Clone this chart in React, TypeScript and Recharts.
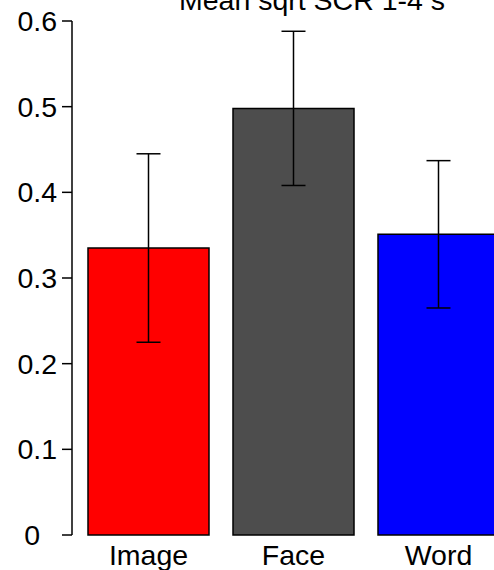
import React from 'react';
import { BarChart, Bar, XAxis, YAxis, ErrorBar, Cell } from 'recharts';

const conditions = ['Image', 'Face', 'Word'];
const meanSqrtScr = [0.335, 0.498, 0.351];
const stdErr = [0.11, 0.09, 0.086];
const barColors = ['#ff0000', '#4d4d4d', '#0000ff'];
const yTicks = [0, 0.1, 0.2, 0.3, 0.4, 0.5, 0.6];

const FONT = '"Liberation Sans", Arial, Helvetica, sans-serif';
const FS = 28.5;

function YTick(props: any) {
  const { x, y, payload } = props;
  // R puts the lone "0" a little further left than the others
  const shift = payload.value === 0 ? -17 : 0;
  return (
    <text x={x + shift} y={y + 10} textAnchor="end" fontSize={FS} fontFamily={FONT} fill="#000">
      {payload.value}
    </text>
  );
}

function XTick(props: any) {
  const { x, y, payload } = props;
  return (
    <text x={x} y={y + 30} textAnchor="middle" fontSize={FS} fontFamily={FONT} fill="#000">
      {payload.value}
    </text>
  );
}

export default function App() {
  const data = conditions.map((name, i) => ({
    name,
    mean: meanSqrtScr[i],
    err: stdErr[i],
  }));

  return (
    <div
      style={{
        position: 'absolute',
        left: 0,
        top: 0,
        width: 494,
        height: 570,
        overflow: 'hidden',
        background: '#fff',
      }}
    >
      <BarChart
        width={511}
        height={570}
        data={data}
        margin={{ top: 21, right: 0, bottom: 0, left: 0 }}
      >
        <XAxis
          dataKey="name"
          axisLine={false}
          tickLine={false}
          tickSize={0}
          tickMargin={0}
          height={35}
          padding={{ left: 4, right: 0 }}
          tick={<XTick />}
          interval={0}
        />
        <YAxis
          domain={[0, 0.6]}
          ticks={yTicks}
          width={72}
          tickSize={10}
          tickMargin={5}
          axisLine={{ stroke: '#000', strokeWidth: 1.5 }}
          tickLine={{ stroke: '#000', strokeWidth: 1.5 }}
          tick={<YTick />}
          interval={0}
        />
        <Bar dataKey="mean" barSize={121} stroke="#000" strokeWidth={1.5} isAnimationActive={false}>
          {data.map((d, i) => (
            <Cell key={d.name} fill={barColors[i]} />
          ))}
          <ErrorBar dataKey="err" width={12} stroke="#000" strokeWidth={1.5} />
        </Bar>
      </BarChart>
      <svg
        width={494}
        height={30}
        style={{ position: 'absolute', left: 0, top: 0, pointerEvents: 'none' }}
      >
        <text x={312} y={10} textAnchor="middle" fontSize={FS} fontFamily={FONT} fill="#000">
          Mean sqrt SCR 1-4 s
        </text>
      </svg>
    </div>
  );
}
